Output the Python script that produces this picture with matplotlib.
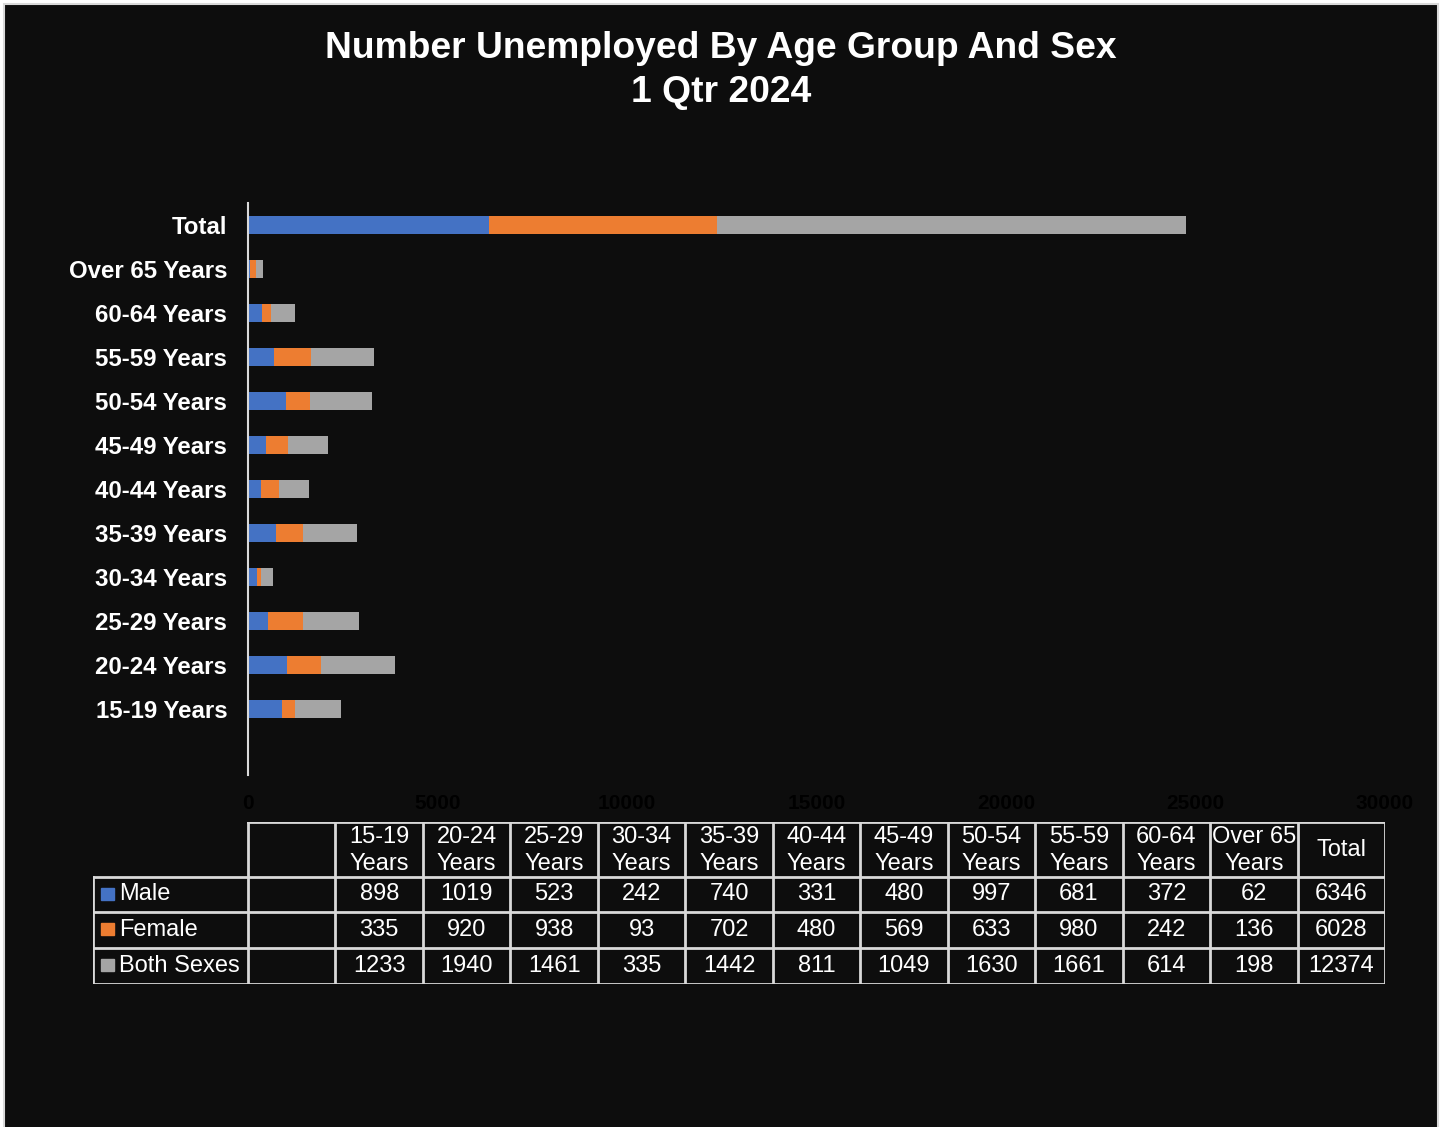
import matplotlib.pyplot as plt
from matplotlib.patches import Rectangle

plt.rcParams['font.family'] = ['Liberation Sans', 'DejaVu Sans']

# data
groups = ["15-19 Years", "20-24 Years", "25-29 Years", "30-34 Years", "35-39 Years",
          "40-44 Years", "45-49 Years", "50-54 Years", "55-59 Years", "60-64 Years",
          "Over 65 Years", "Total"]
head_labels = ["15-19\nYears", "20-24\nYears", "25-29\nYears", "30-34\nYears", "35-39\nYears",
               "40-44\nYears", "45-49\nYears", "50-54\nYears", "55-59\nYears", "60-64\nYears",
               "Over 65\nYears", "Total"]
male = [898, 1019, 523, 242, 740, 331, 480, 997, 681, 372, 62, 6346]
female = [335, 920, 938, 93, 702, 480, 569, 633, 980, 242, 136, 6028]
both = [1233, 1940, 1461, 335, 1442, 811, 1049, 1630, 1661, 614, 198, 12374]

series = [("Male", male, "#4472C4"), ("Female", female, "#ED7D31"), ("Both Sexes", both, "#A5A5A5")]

W, H = 1442, 1127
bg = "#0d0d0d"
grid_c = "#d9d9d9"

fig = plt.figure(figsize=(W / 100, H / 100), dpi=100, facecolor='white')
fig.patches.append(Rectangle((4 / W, -0.01), 1434 / W, 1.01 - 4 / H, transform=fig.transFigure,
                             facecolor=bg, edgecolor=grid_c, linewidth=1.5, zorder=-1))

ax_l, ax_r, ax_t, ax_b = 248, 1385, 203, 775
ax = fig.add_axes([ax_l / W, 1 - ax_b / H, (ax_r - ax_l) / W, (ax_b - ax_t) / H])
ax.set_facecolor(bg)

cats = [""] + groups
ypos = list(range(len(cats)))
left = [0] * len(groups)
for name, vals, col in series:
    ax.barh(ypos[1:], vals, left=left, height=0.4, color=col, label=name)
    left = [a + b for a, b in zip(left, vals)]

ax.set_ylim(-0.5, len(cats) - 0.5)
ax.set_xlim(0, 30000)
ax.set_xticks(range(0, 30001, 5000))
ax.set_yticks(ypos)
ax.set_yticklabels(cats, fontsize=17.3, fontweight='bold', color='white')
ax.tick_params(axis='x', colors='black', labelsize=15, length=0, pad=14)
for t in ax.get_xticklabels():
    t.set_fontweight('bold')
ax.tick_params(axis='y', length=0, pad=15)
for s in ['top', 'right', 'bottom']:
    ax.spines[s].set_visible(False)
ax.spines['left'].set_color(grid_c)
ax.spines['left'].set_linewidth(1.5)

fig.text(0.5, 1 - 49 / H, "Number Unemployed By Age Group And Sex", ha='center', va='center',
         fontsize=26.8, fontweight='bold', color='white')
fig.text(0.5, 1 - 92 / H, "1 Qtr 2024", ha='center', va='center',
         fontsize=26.8, fontweight='bold', color='white')

# data table below the chart
tx0, tx1, ty0, ty1 = 93, 1385, 822, 984
tab = fig.add_axes([tx0 / W, 1 - ty1 / H, (tx1 - tx0) / W, (ty1 - ty0) / H])
tab.set_xlim(tx0, tx1)
tab.set_ylim(ty1, ty0)
tab.axis('off')

colw = (ax_r - ax_l) / len(cats)
col_edges = [ax_l + i * colw for i in range(len(cats) + 1)]
row_edges = [822, 877, 912, 948, 984]
lkw = dict(color=grid_c, linewidth=2, solid_capstyle='projecting')

tab.plot([ax_l, ax_r], [row_edges[0]] * 2, **lkw)
for y in row_edges[1:]:
    tab.plot([tx0, ax_r], [y, y], **lkw)
for x in col_edges:
    tab.plot([x, x], [row_edges[0], row_edges[-1]], **lkw)
tab.plot([tx0, tx0], [row_edges[1], row_edges[-1]], **lkw)

for i, lab in enumerate(head_labels):
    cx = col_edges[i + 1] + colw / 2
    tab.text(cx, (row_edges[0] + row_edges[1]) / 2 + 1, lab, ha='center', va='center',
             fontsize=17, color='white', linespacing=1.25)

for r, (name, vals, col) in enumerate(series):
    cy = (row_edges[r + 1] + row_edges[r + 2]) / 2
    tab.add_patch(Rectangle((101, cy - 7), 13, 12, color=col))
    tab.text(119, cy, name, ha='left', va='center', fontsize=17, color='white')
    for i, v in enumerate(vals):
        cx = col_edges[i + 1] + colw / 2
        tab.text(cx, cy, str(v), ha='center', va='center', fontsize=17, color='white')

fig.savefig("out.png", dpi=100, facecolor='white')
